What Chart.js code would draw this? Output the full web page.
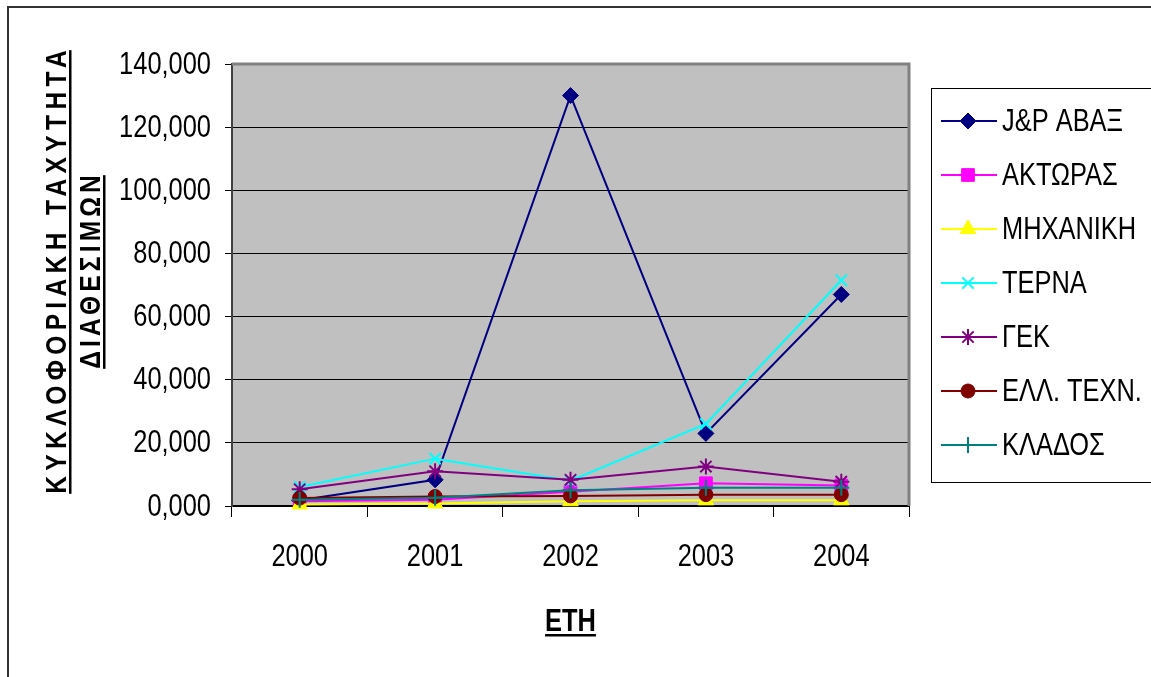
<!DOCTYPE html>
<html>
<head>
<meta charset="utf-8">
<script src="https://cdn.jsdelivr.net/npm/chart.js@4"></script>
<style>
  html, body { margin: 0; padding: 0; background: #fff; }
  canvas { display: block; }
</style>
</head>
<body>
<canvas id="speed-chart" width="1151" height="677"></canvas>
<script>
// data
const years = ['2000', '2001', '2002', '2003', '2004'];
const seriesNames = ['J&P ΑΒΑΞ', 'ΑΚΤΩΡΑΣ', 'ΜΗΧΑΝΙΚΗ', 'ΤΕΡΝΑ', 'ΓΕΚ', 'ΕΛΛ. ΤΕΧΝ.', 'ΚΛΑΔΟΣ'];
const abax      = [1.8, 8.3, 130.0, 23.0, 67.0];
const aktoras   = [1.5, 2.0, 4.5, 7.2, 6.5];
const mixaniki  = [0.5, 0.8, 1.5, 1.8, 1.8];
const terna     = [6.0, 15.0, 8.0, 26.0, 71.5];
const gek       = [5.3, 11.0, 8.3, 12.5, 7.7];
const elltexn   = [2.5, 3.0, 3.2, 3.6, 3.6];
const klados    = [2.0, 2.6, 5.0, 5.8, 5.8];
const yTicks = [0, 20, 40, 60, 80, 100, 120, 140];

const seriesValues = [abax, aktoras, mixaniki, terna, gek, elltexn, klados];
const seriesColors = ['#000080', '#FF00FF', '#FFFF00', '#00FFFF', '#800080', '#800000', '#008080'];
const seriesMarkers = ['rectRot', 'rect', 'triangle', 'crossRot', 'star', 'circle', 'cross'];
const markerSizes = [8, 9, 9, 8, 8, 7, 8];

const FONT = '"Liberation Sans", Arial, sans-serif';
const NARROW = 0.82;   // no Arial Narrow here, so squeeze the regular face

const datasets = seriesNames.map((name, i) => {
  const strokeOnly = ['crossRot', 'star', 'cross'].includes(seriesMarkers[i]);
  return {
    label: name,
    data: seriesValues[i],
    borderColor: seriesColors[i],
    backgroundColor: seriesColors[i],
    borderWidth: 2,
    pointStyle: seriesMarkers[i],
    pointRadius: markerSizes[i],
    pointHoverRadius: markerSizes[i],
    pointBorderWidth: strokeOnly ? 2 : 1,
    tension: 0,
    clip: false,
    order: seriesNames.length - 1 - i   // later series on top, like the original
  };
});

function narrowText(ctx, text, x, y, align) {
  ctx.save();
  ctx.translate(x, y);
  ctx.scale(NARROW, 1);
  ctx.textAlign = align;
  ctx.fillText(text, 0, 0);
  ctx.restore();
}

// plot background + frame
const plotBack = {
  id: 'plotBack',
  beforeDraw(chart) {
    const { ctx, chartArea: { left, right, top, bottom } } = chart;
    ctx.save();
    ctx.fillStyle = '#C0C0C0';
    ctx.fillRect(left, top, right - left, bottom - top);
    // outer frame, left and top edges only
    ctx.strokeStyle = '#333';
    ctx.lineWidth = 2;
    ctx.beginPath();
    ctx.moveTo(8, 677);
    ctx.lineTo(8, 7);
    ctx.lineTo(1151, 7);
    ctx.stroke();
    ctx.restore();
  },
  beforeDatasetsDraw(chart) {
    const { ctx, chartArea: { left, right, top, bottom } } = chart;
    ctx.save();
    ctx.strokeStyle = '#808080';
    ctx.lineWidth = 3;
    ctx.beginPath();
    ctx.moveTo(left, top);
    ctx.lineTo(right, top);
    ctx.lineTo(right, bottom);
    ctx.stroke();
    ctx.restore();
  }
};

// tick labels in a condensed face, placed by the scales
const tickLabels = {
  id: 'tickLabels',
  afterDraw(chart) {
    const { ctx, scales: { x, y } } = chart;
    ctx.save();
    ctx.fillStyle = '#000';
    ctx.font = '31px ' + FONT;
    ctx.textBaseline = 'middle';
    y.ticks.forEach((t, i) => {
      narrowText(ctx, y.options.ticks.callback(t.value), x.left - 21, y.getPixelForTick(i) + 1, 'right');
    });
    x.ticks.forEach((t, i) => {
      narrowText(ctx, years[i], x.getPixelForTick(i), 557, 'center');
    });
    ctx.restore();
  }
};

// axis titles, bold + underlined
function underlinedText(ctx, text, x, y, spacing) {
  ctx.save();
  ctx.translate(x, y);
  ctx.scale(NARROW, 1);
  ctx.letterSpacing = spacing + 'px';
  const w = ctx.measureText(text).width - spacing;
  ctx.textAlign = 'left';
  ctx.fillText(text, -w / 2, 0);
  ctx.fillRect(-w / 2, 3, w, 2.5);
  ctx.restore();
}

const axisTitles = {
  id: 'axisTitles',
  afterDraw(chart) {
    const { ctx, chartArea: { left, right } } = chart;
    ctx.save();
    ctx.fillStyle = '#000';
    ctx.textBaseline = 'alphabetic';
    ctx.font = 'bold 30px ' + FONT;

    // y title, two lines rotated
    ctx.save();
    ctx.translate(66, 272);
    ctx.rotate(-Math.PI / 2);
    underlinedText(ctx, 'ΚΥΚΛΟΦΟΡΙΑΚΗ ΤΑΧΥΤΗΤΑ', 0, 0, 6.5);
    ctx.restore();
    ctx.save();
    ctx.translate(100, 272);
    ctx.rotate(-Math.PI / 2);
    underlinedText(ctx, 'ΔΙΑΘΕΣΙΜΩΝ', 0, 0, 5);
    ctx.restore();

    // x title
    ctx.font = 'bold 31px ' + FONT;
    underlinedText(ctx, 'ΕΤΗ', (left + right) / 2, 631, 0);
    ctx.restore();
  }
};

// legend: line with marker, like the spreadsheet one
const lineLegend = {
  id: 'lineLegend',
  afterDraw(chart) {
    const { ctx } = chart;
    const boxLeft = 931, boxTop = 88, boxBottom = 482;
    ctx.save();
    ctx.strokeStyle = '#000';
    ctx.lineWidth = 1;
    ctx.strokeRect(boxLeft + 0.5, boxTop + 0.5, 1151 - boxLeft + 5, boxBottom - boxTop);

    ctx.font = '31px ' + FONT;
    ctx.textBaseline = 'middle';
    chart.data.datasets.forEach((ds, i) => {
      const y = 121 + i * 54;
      ctx.strokeStyle = ds.borderColor;
      ctx.fillStyle = ds.backgroundColor;
      ctx.lineWidth = 2;
      ctx.beginPath();
      ctx.moveTo(941, y);
      ctx.lineTo(997, y);
      ctx.stroke();
      ctx.lineWidth = ds.pointBorderWidth;
      Chart.helpers.drawPoint(ctx, {
        pointStyle: ds.pointStyle,
        radius: ds.pointRadius,
        rotation: 0,
        borderWidth: ds.pointBorderWidth
      }, 968, y);
      ctx.fillStyle = '#000';
      narrowText(ctx, ds.label, 1002, y + 1, 'left');
    });
    ctx.restore();
  }
};

const config = {
  type: 'line',
  data: { labels: years, datasets },
  options: {
    responsive: false,
    animation: false,
    events: [],
    layout: { padding: { left: 0, top: 64, right: 242, bottom: 0 } },
    plugins: {
      legend: { display: false },
      tooltip: { enabled: false }
    },
    scales: {
      x: {
        offset: true,
        afterFit: s => { s.height = 171; },
        grid: {
          offset: true,
          drawOnChartArea: false,
          drawTicks: true,
          tickLength: 11,
          tickColor: '#000'
        },
        border: { color: '#000', width: 2 },
        ticks: {
          color: 'rgba(0,0,0,0)',
          font: { family: FONT, size: 26 },
          maxRotation: 0
        }
      },
      y: {
        min: 0,
        max: 140,
        afterFit: s => { s.width = 232; },
        afterBuildTicks: s => { s.ticks = yTicks.map(v => ({ value: v })); },
        grid: {
          color: c => (c.tick && c.tick.value === 140 ? 'rgba(0,0,0,0)' : '#000'),
          tickColor: '#000',
          lineWidth: 1,
          tickLength: 7
        },
        border: { color: '#404040', width: 2 },
        ticks: {
          color: 'rgba(0,0,0,0)',
          font: { family: FONT, size: 26 },
          callback: v => v.toFixed(3).replace('.', ',')
        }
      }
    }
  },
  plugins: [plotBack, tickLabels, axisTitles, lineLegend]
};

const speedChart = new Chart(document.getElementById('speed-chart'), config);
</script>
</body>
</html>
